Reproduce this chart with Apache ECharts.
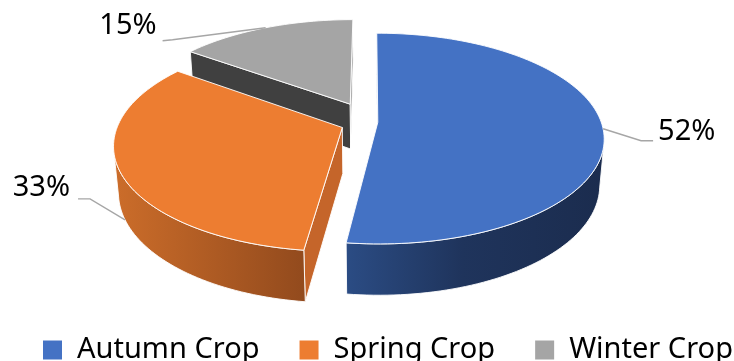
<!DOCTYPE html>
<html>
<head>
<meta charset="utf-8">
<script src="https://cdn.jsdelivr.net/npm/echarts@6/dist/echarts.min.js"></script>
<style>
  html, body { margin: 0; padding: 0; background: #ffffff; }
  #chart { width: 734px; height: 361px; }
</style>
</head>
<body>
<div id="chart"></div>
<script>
// Crop shares (percent of total)
const categories = ['Autumn Crop', 'Spring Crop', 'Winter Crop'];
const shares = [52, 33, 15];

// Palette: top faces, curved rim shading, flat cut faces [start, end]
const topColors = ['#4472C4', '#ED7D31', '#A5A5A5'];
const rimShades = [
  [[0, '#2B4C84'], [0.45, '#1F345C'], [1, '#1B2C4E']],
  [[0, '#CC6D2A'], [1, '#924A1D']],
  [[0, '#5A5A5A'], [1, '#3A3A3A']]
];
const cutColors = [['#2F5597', '#2F5597'], ['#C5652A', '#C5652A'], ['#404040', '#7F7F7F']];

// How far each slice is pulled out from the centre (unit = radius)
const explode = [0.035, 0.134, 0.2];

// Perspective camera for the tilted disc
const view = { cx: 370, cy: 122, focal: 1280, dist: 5.73, tilt: Math.asin(0.46), height: 0.235 };
const sinT = Math.sin(view.tilt), cosT = Math.cos(view.tilt);
const TAU = Math.PI * 2;

// Leader line / label placement relative to each slice's anchor point
const labelLayout = [
  { drop: 0, elbow: [38, 12], end: [50, 12], text: [55, 3], align: 'left' },
  { drop: 1, elbow: [-35, -21], end: [-47, -21], text: [-55, -32], align: 'right' },
  { drop: 0, elbow: [-93, 12], end: [-103, 13], text: [-109, -2], align: 'right' }
];

const total = shares.reduce((s, v) => s + v, 0);

function sliceAngles(i, value) {
  const before = shares.slice(0, i).reduce((s, v) => s + v, 0);
  const a0 = before / total * TAU;
  const a1 = (before + value) / total * TAU;
  return [a0, a1, (a0 + a1) / 2];
}

function project(X, Y, Z) {
  const w = view.dist - (Y * sinT + Z * cosT);
  return [view.cx + view.focal * X / w, view.cy - view.focal * (Y * cosT - Z * sinT) / w];
}
function rim(o, theta, y) {
  return project(o[0] + Math.sin(theta), y, o[1] - Math.cos(theta));
}

const camZ = view.dist * cosT;
const edge = { stroke: 'rgba(255,255,255,0.9)', lineWidth: 1, lineJoin: 'round' };

function renderSlice(i) {
  return function (params, api) {
    const value = api.value(0);
    const [a0, a1, mid] = sliceAngles(i, value);
    const o = [explode[i] * Math.sin(mid), -explode[i] * Math.cos(mid)];
    const h = view.height;
    const steps = Math.max(2, Math.ceil((a1 - a0) / (Math.PI / 120)));
    const thetas = [];
    for (let k = 0; k <= steps; k++) thetas.push(a0 + (a1 - a0) * k / steps);
    const children = [];

    // flat cut faces along the two radii
    [[a0, -1], [a1, 1]].forEach(([a, sgn], j) => {
      const nx = sgn * Math.cos(a), nz = sgn * Math.sin(a);
      const px = o[0] + 0.5 * Math.sin(a), pz = o[1] - 0.5 * Math.cos(a);
      if (nx * (-px) + nz * (camZ - pz) <= 0) return;
      children.push({
        type: 'polygon',
        shape: { points: [project(o[0], 0, o[1]), rim(o, a, 0), rim(o, a, -h), project(o[0], -h, o[1])] },
        style: Object.assign({ fill: cutColors[i][j] }, edge)
      });
    });

    // curved outer wall, only the part facing the camera
    const facing = thetas.map(t => {
      const px = o[0] + Math.sin(t), pz = o[1] - Math.cos(t);
      return Math.sin(t) * (-px) - Math.cos(t) * (camZ - pz) > 0;
    });
    const shown = facing.map((v, k) => v || facing[k - 1] || facing[k + 1]);
    let run = [];
    const flush = () => {
      if (run.length >= 2) {
        const top = run.map(t => rim(o, t, 0));
        const bottom = run.slice().reverse().map(t => rim(o, t, -h));
        children.push({
          type: 'polygon',
          shape: { points: top.concat(bottom) },
          style: Object.assign({
            fill: {
              type: 'linear', x: 0, y: 0, x2: 1, y2: 0,
              colorStops: rimShades[i].map(([offset, color]) => ({ offset, color }))
            }
          }, edge)
        });
      }
      run = [];
    };
    thetas.forEach((t, k) => { if (shown[k]) run.push(t); else flush(); });
    flush();

    // top face
    children.push({
      type: 'polygon',
      shape: { points: [project(o[0], 0, o[1])].concat(thetas.map(t => rim(o, t, 0))) },
      style: Object.assign({ fill: topColors[i] }, edge)
    });

    // data label with leader line
    const lay = labelLayout[i];
    const anchor = rim(o, mid, -h * lay.drop);
    children.push({
      type: 'polyline',
      z2: 10,
      shape: { points: [
        anchor,
        [anchor[0] + lay.elbow[0], anchor[1] + lay.elbow[1]],
        [anchor[0] + lay.end[0], anchor[1] + lay.end[1]]
      ] },
      style: { stroke: '#A6A6A6', lineWidth: 1.4, fill: null }
    });
    children.push({
      type: 'text',
      z2: 10,
      style: {
        text: Math.round(value / total * 100) + '%',
        x: anchor[0] + lay.text[0],
        y: anchor[1] + lay.text[1],
        align: lay.align,
        verticalAlign: 'middle',
        fill: '#000000',
        fontSize: 29,
        fontFamily: '"Noto Sans", sans-serif'
      }
    });

    return { type: 'group', children };
  };
}

// paint far slices first
const depthKey = categories.map((_, i) => {
  const mid = sliceAngles(i, shares[i])[2];
  return -explode[i] * Math.cos(mid);
});
const order = depthKey.map((d, i) => i).sort((a, b) => depthKey[a] - depthKey[b]);
const zOf = [];
order.forEach((idx, rank) => { zOf[idx] = 2 + rank; });

const chart = echarts.init(document.getElementById('chart'), null, { renderer: 'canvas' });
chart.setOption({
  animation: false,
  backgroundColor: '#ffffff',
  legend: {
    data: categories,
    left: 43,
    top: 327,
    width: 700,
    padding: 0,
    icon: 'rect',
    itemWidth: 19,
    itemHeight: 19,
    itemGap: 40,
    selectedMode: false,
    textStyle: {
      color: '#000000',
      fontSize: 29,
      fontFamily: '"Noto Sans", sans-serif',
      lineHeight: 36,
      padding: [0, 0, 10, 10]
    }
  },
  series: categories.map((name, i) => ({
    type: 'custom',
    name,
    coordinateSystem: 'none',
    z: zOf[i],
    silent: true,
    itemStyle: { color: topColors[i] },
    data: [[shares[i]]],
    renderItem: renderSlice(i)
  }))
});
</script>
</body>
</html>
